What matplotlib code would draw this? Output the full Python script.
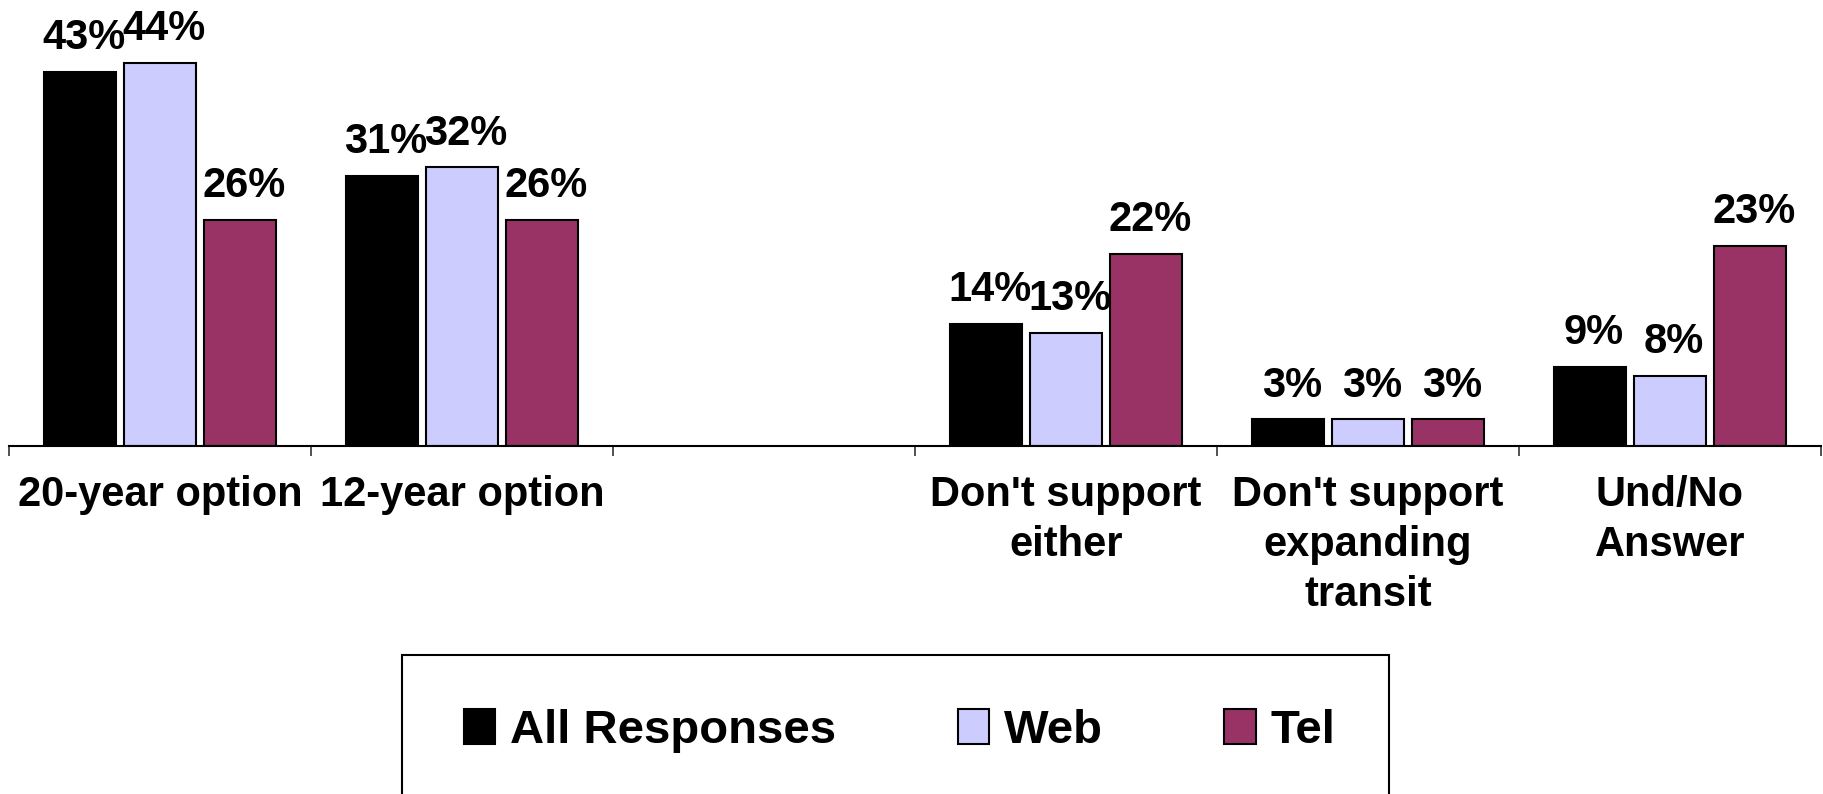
import matplotlib

matplotlib.use("Agg")
import matplotlib.pyplot as plt
import numpy as np
from matplotlib.patches import Rectangle

# Data (percent)
categories = [
    "20-year option",
    "12-year option",
    "",
    "Don't support\neither",
    "Don't support\nexpanding\ntransit",
    "Und/No\nAnswer",
]
series_names = ["All Responses", "Web", "Tel"]
all_responses = [43, 31, np.nan, 14, 3, 9]
web = [44, 32, np.nan, 13, 3, 8]
tel = [26, 26, np.nan, 22, 3, 23]

colors = ["#000000", "#CCCCFF", "#993366"]
FONT = ["Liberation Sans", "DejaVu Sans"]
plt.rcParams["font.family"] = FONT
plt.rcParams["font.weight"] = "bold"

W, H = 1824, 794
fig = plt.figure(figsize=(W / 100, H / 100), dpi=100, facecolor="white")
ax = fig.add_axes([9 / W, 1 - 445.5 / H, (1821 - 9) / W, (445.5 - 11) / H])

x = np.arange(len(categories))
step = 0.266
width = 0.238
bars = []
for i, (name, vals) in enumerate(zip(series_names, [all_responses, web, tel])):
    b = ax.bar(x + (i - 1) * step, vals, width, color=colors[i], edgecolor="black",
               linewidth=1.5, label=name)
    bars.append(b)
    for xi, v in zip(x + (i - 1) * step, vals):
        if np.isnan(v):
            continue
        ax.annotate(f"{v:.0f}%", (xi, v), xytext=(3, 10), textcoords="offset points",
                    ha="center", va="bottom", fontsize=30, fontweight="bold")

ax.set_xlim(-0.5, len(categories) - 0.5)
ax.set_ylim(0, 50)
for s in ["left", "right", "top"]:
    ax.spines[s].set_visible(False)
ax.spines["bottom"].set_linewidth(1.5)
ax.set_yticks([])

ax.set_xticks(x)
ax.set_xticklabels(categories, fontsize=30, fontweight="bold", linespacing=1.33)
ax.tick_params(axis="x", which="major", length=0, pad=21)
ax.set_xticks(np.arange(-0.5, len(categories)), minor=True)
ax.tick_params(axis="x", which="minor", length=7.5, width=1.2, color="#333333")

# Legend box, running off the bottom edge like the original
fig.patches.append(Rectangle((402.5 / W, -0.2), (1389 - 402.5) / W, 0.2 + 1 - 655 / H,
                             transform=fig.transFigure, fill=False, edgecolor="black",
                             linewidth=1.5))
fig.legend(handles=bars, labels=series_names, loc="center left",
           bbox_to_anchor=(464 / W, 1 - 731 / H), ncol=3, frameon=False,
           borderpad=0, borderaxespad=0, handlelength=0.66,
           handleheight=0.74, handletextpad=0.31, columnspacing=2.58,
           prop={"weight": "bold", "size": 34, "family": FONT})

fig.savefig("out.png", dpi=100, facecolor="white")
